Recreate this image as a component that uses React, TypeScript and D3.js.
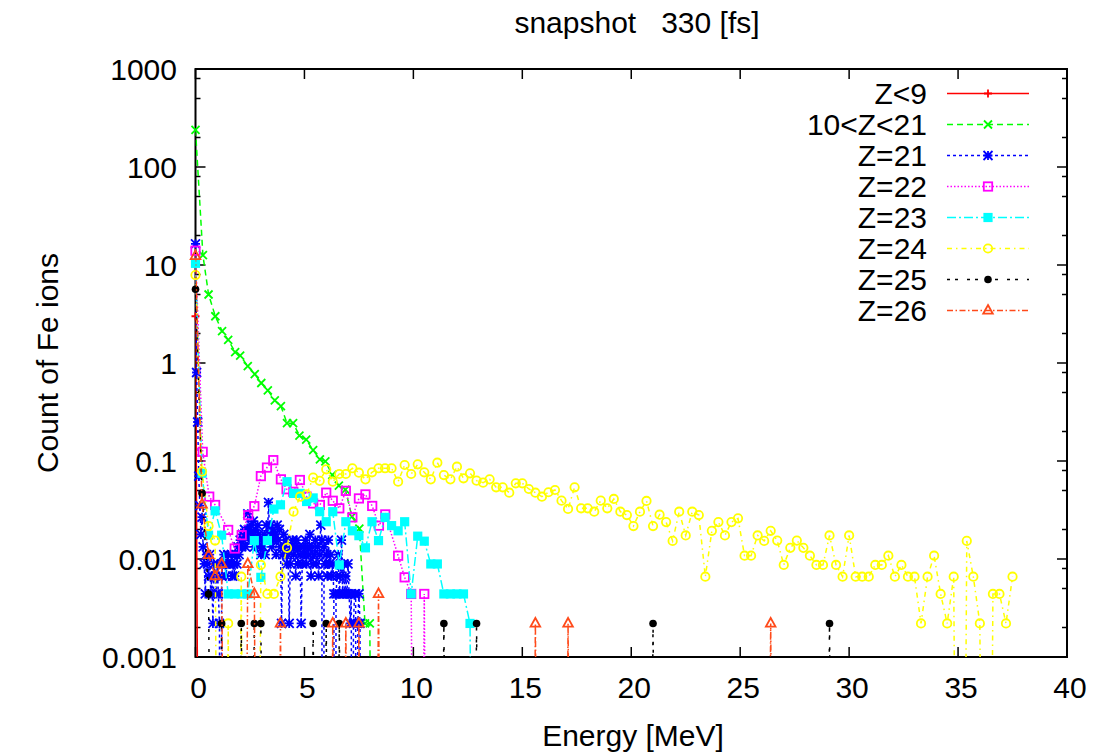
import React from 'react';
import * as d3 from 'd3';

// ---------- layout ----------
const W = 1106;
const H = 753;
const PL = 195.5;
const PR = 1067;
const PT = 69;
const PB = 657;
const FONT = '"Liberation Sans", Arial, Helvetica, sans-serif';
const FS = 30;

// ---------- axes ----------
const xTicks = [0, 5, 10, 15, 20, 25, 30, 35, 40];
const yTicks = [0.001, 0.01, 0.1, 1, 10, 100, 1000];
const yTickLabels = ['0.001', '0.01', '0.1', '1', '10', '100', '1000'];
const yMinorFactors = [2, 5, 8];

const FLOOR = 1e-12; // empty bins sit far below the axis

// ---------- data ----------
// Z<9
const redPts: [number, number][] = [[0, 3.0], [0.3, 0]];

// 10<Z<21
const greenX = [0, 0.34, 0.6, 0.91, 1.22, 1.5, 1.82, 2.05, 2.4, 2.72, 3.02, 3.32, 3.64, 3.92, 4.2, 4.48, 4.77, 5.08, 5.4, 5.71, 5.96, 6.28, 6.58, 6.88, 7.18, 7.52, 7.78, 8.0, 8.3];
const greenY = [239, 12.6, 5.0, 3.0, 2.12, 1.72, 1.29, 1.19, 0.93, 0.77, 0.625, 0.525, 0.415, 0.363, 0.243, 0.243, 0.182, 0.165, 0.129, 0.104, 0.099, 0.072, 0.056, 0.051, 0.027, 0.0204, 0.0022, 0.0022, 0];

// Z=21 (bins of 0.05 MeV starting at 0)
const BLUE_BIN = 0.05;
const blueY = [
  16.4, 0.8, 0.25, 0.07, 0.035, 0.0178, 0.0267, 0.0133, 0.0089, 0.0044,
  0.0111, 0.0089, 0.0067, 0.0111, 0.0044, 0.0067, 0.0022, 0.0089, 0.0067, 0.0044,
  0.0089, 0.0044, 0.0022, 0, 0.0067, 0.0089, 0.0111, 0.0089, 0.0067, 0.0089,
  0.0111, 0.0089, 0.0089, 0.0111, 0.0067, 0.0089, 0.0067, 0.0111, 0.0089, 0.0133,
  0.0111, 0.0156, 0.0133, 0.0178, 0.0156, 0.02, 0.0133, 0.0178, 0.0289, 0.02,
  0.0156, 0.0222, 0.0178, 0.0244, 0.0133, 0.02, 0.0156, 0.0222, 0.0178, 0.0133,
  0.0111, 0.0156, 0.0133, 0.0178, 0.0111, 0.0222, 0.0156, 0.0378, 0.0178, 0.0222,
  0.0133, 0.02, 0.0156, 0.0178, 0.0111, 0.0222, 0.0156, 0.02, 0.0133, 0.0022,
  0.0111, 0.0178, 0.0133, 0.0156, 0.0089, 0.0111, 0.0022, 0.0089, 0.0133, 0.0156,
  0.0111, 0.0133, 0.0067, 0.0156, 0.0089, 0.0133, 0.0111, 0.0022, 0.0089, 0.0133,
  0.0111, 0.0156, 0.0089, 0.0133, 0.0111, 0.0178, 0.0067, 0.0133, 0.0089, 0.0111,
  0.0156, 0.0089, 0.0133, 0.0067, 0.0111, 0.0222, 0.0156, 0, 0.0133, 0.0089,
  0.0111, 0.0067, 0.0156, 0.0089, 0.0111, 0.0067, 0.0089, 0.0044, 0, 0.0044,
  0.0067, 0.0111, 0.0044, 0.0067, 0.0156, 0.0044, 0.0089, 0.0044, 0.0067, 0.0044,
  0.0089, 0.0044, 0.0022, 0.0044, 0, 0.0022, 0.0044, 0.0044, 0, 0.0022,
  0.0044, 0.0022, 0,
];

// Z=22
const magentaX = [0, 0.33, 0.63, 0.9, 1.5, 1.8, 2.12, 2.42, 2.7, 3.0, 3.28, 3.57, 3.92, 4.18, 4.49, 4.79, 5.1, 5.4, 5.71, 6.0, 6.3, 6.6, 6.9, 7.2, 7.5, 7.8, 8.11, 8.42, 8.71, 9.3, 9.6, 9.9, 10.2, 10.5, 10.8];
const magentaY = [14, 0.124, 0.0433, 0.0356, 0.0198, 0.0128, 0.0175, 0.028, 0.0346, 0.0701, 0.0857, 0.102, 0.065, 0.0515, 0.0485, 0.064, 0.0433, 0.0369, 0.0356, 0.0475, 0.0393, 0.0329, 0.0496, 0.0266, 0.0415, 0.0456, 0.0348, 0.0219, 0.0285, 0.0108, 0.0065, 0.0044, 0, 0.0044, 0];

// Z=23 (bins of 0.3 MeV starting at 0)
const CYAN_BIN = 0.3;
const cyanY = [10.4, 0.075, 0.0175, 0.031, 0.0175, 0.0044, 0.0044, 0.0044, 0.0044, 0.0154,
  0.0065, 0.0154, 0.0323, 0.0357, 0.0615, 0.0467, 0.0467, 0.0386, 0.042, 0.0304,
  0.024, 0.0304, 0.0087, 0.024, 0.0194, 0.0173, 0.013, 0.024, 0.0154, 0.0266,
  0.0219, 0.0194, 0.024, 0.0044, 0.0171, 0.0152, 0.0089, 0.0089, 0.0044, 0.0044,
  0.0044, 0.0044, 0.0022, 0];

// Z=24 (bins of 0.3 MeV starting at 0)
const YELLOW_BIN = 0.3;
const yellowY = [7.9, 0.078, 0.0217, 0.0154, 0, 0.0022, 0, 0.0066, 0, 0,
  0.0087, 0.0044, 0.0044, 0.0066, 0.013, 0.0304, 0.0432, 0.0457, 0.0676, 0.0627,
  0.0823, 0.0615, 0.0737, 0.0737, 0.0843, 0.076, 0.065, 0.0767, 0.0843, 0.0843,
  0.0843, 0.0615, 0.091, 0.0737, 0.0925, 0.0767, 0.065, 0.0961, 0.0719, 0.065,
  0.0875, 0.0666, 0.0749, 0.063, 0.0601, 0.065, 0.0539, 0.0539, 0.0475, 0.0592,
  0.0592, 0.0518, 0.0475, 0.0432, 0.048, 0.0506, 0.0394, 0.0324, 0.0539, 0.0329,
  0.0329, 0.0304, 0.0394, 0.0329, 0.041, 0.0304, 0.0281, 0.0217, 0.0304, 0.0391,
  0.0217, 0.0283, 0.0238, 0.0153, 0.0304, 0.0174, 0.0304, 0.0281, 0.0066, 0.0194,
  0.0238, 0.0174, 0.0238, 0.026, 0.0108, 0.0108, 0.0174, 0.0153, 0.0194, 0.0154,
  0.0087, 0.013, 0.0154, 0.013, 0.0108, 0.0087, 0.0087, 0.0174, 0.0087, 0.0066,
  0.0174, 0.0066, 0.0066, 0.0066, 0.0087, 0.0087, 0.0108, 0.0066, 0.0087, 0.0066,
  0.0066, 0.0022, 0.0066, 0.0108, 0.0044, 0.0022, 0.0066, 0, 0.0153, 0.0066,
  0.0022, 0, 0.0044, 0.0044, 0.0022, 0.0066];

// Z=25
const blackPts: [number, number][] = [[0, 5.65], [0.3, 0.047], [0.6, 0.0044], [0.9, 0], [1.2, 0.0022], [1.5, 0], [1.8, 0], [2.1, 0.0022], [2.4, 0], [2.7, 0.0022], [3.0, 0.0022], [3.3, 0], [5.1, 0], [5.4, 0.0022], [5.7, 0], [6.0, 0.0022], [6.3, 0], [6.6, 0.0022], [6.9, 0], [11.1, 0], [11.4, 0.0022], [11.7, 0], [12.6, 0], [12.9, 0.0022], [13.2, 0], [20.7, 0], [21.0, 0.0022], [21.3, 0], [28.8, 0], [29.1, 0.0022], [29.4, 0]];

// Z=26
const orangePts: [number, number][] = [[0, 12.4], [0.3, 0.036], [0.6, 0.011], [0.9, 0.0067], [1.2, 0.0089], [1.5, 0], [2.1, 0], [2.4, 0.0089], [2.7, 0.0044], [3.0, 0], [3.6, 0], [3.9, 0.0022], [4.2, 0], [6.0, 0], [6.3, 0.0022], [6.6, 0], [6.9, 0.0022], [7.2, 0], [7.5, 0.0022], [7.8, 0], [8.1, 0], [8.4, 0.0044], [8.7, 0], [15.3, 0], [15.6, 0.0022], [15.9, 0], [16.8, 0], [17.1, 0.0022], [17.4, 0], [26.1, 0], [26.4, 0.0022], [26.7, 0]];

const zip = (xs: number[], ys: number[]): [number, number][] => ys.map((v, i) => [xs[i], v]);
const binned = (bin: number, ys: number[]): [number, number][] => ys.map((v, i) => [i * bin, v]);

type Marker = 'plus' | 'cross' | 'star' | 'box' | 'fbox' | 'circle' | 'fcircle' | 'tri';
interface Series { name: string; color: string; dash: string; marker: Marker; pts: [number, number][] }

const series: Series[] = [
  { name: 'Z<9', color: '#ff0000', dash: '', marker: 'plus', pts: redPts },
  { name: '10<Z<21', color: '#00ff00', dash: '6,4', marker: 'cross', pts: zip(greenX, greenY) },
  { name: 'Z=21', color: '#0000ff', dash: '3,3', marker: 'star', pts: binned(BLUE_BIN, blueY) },
  { name: 'Z=22', color: '#ff00ff', dash: '1.5,2', marker: 'box', pts: zip(magentaX, magentaY) },
  { name: 'Z=23', color: '#00ffff', dash: '9,3,2,3', marker: 'fbox', pts: binned(CYAN_BIN, cyanY) },
  { name: 'Z=24', color: '#ffff00', dash: '5,4,1.5,4', marker: 'circle', pts: binned(YELLOW_BIN, yellowY) },
  { name: 'Z=25', color: '#000000', dash: '3,5,3,9', marker: 'fcircle', pts: blackPts },
  { name: 'Z=26', color: '#ff4a1a', dash: '6,2.5,1.5,2.5', marker: 'tri', pts: orangePts },
];

function MarkerShape({ type, cx, cy, color }: { type: Marker; cx: number; cy: number; color: string }) {
  const common = { stroke: color, strokeWidth: 1.8, fill: 'none' };
  switch (type) {
    case 'plus': {
      const s = 4;
      return <path d={`M${cx - s},${cy}H${cx + s}M${cx},${cy - s}V${cy + s}`} {...common} />;
    }
    case 'cross': {
      const s = 4;
      return <path d={`M${cx - s},${cy - s}L${cx + s},${cy + s}M${cx - s},${cy + s}L${cx + s},${cy - s}`} {...common} />;
    }
    case 'star': {
      const s = 4.5;
      return (
        <path
          d={`M${cx - s},${cy}H${cx + s}M${cx},${cy - s}V${cy + s}M${cx - s},${cy - s}L${cx + s},${cy + s}M${cx - s},${cy + s}L${cx + s},${cy - s}`}
          {...common}
        />
      );
    }
    case 'box': {
      const s = 4.2;
      return <rect x={cx - s} y={cy - s} width={2 * s} height={2 * s} {...common} />;
    }
    case 'fbox': {
      const s = 4.6;
      return <rect x={cx - s} y={cy - s} width={2 * s} height={2 * s} fill={color} stroke="none" />;
    }
    case 'circle':
      return <circle cx={cx} cy={cy} r={4.2} {...common} />;
    case 'fcircle':
      return <circle cx={cx} cy={cy} r={3.8} fill={color} stroke="none" />;
    case 'tri':
      return <path d={`M${cx},${cy - 5.5}L${cx + 4.8},${cy + 3.2}L${cx - 4.8},${cy + 3.2}Z`} {...common} />;
  }
  return null;
}

export default function App() {
  const x = d3.scaleLinear().domain([0, 40]).range([PL, PR]);
  const y = d3.scaleLog().domain([0.001, 1000]).range([PB, PT]);
  const line = d3
    .line<[number, number]>()
    .x((d) => x(d[0]))
    .y((d) => y(d[1] > 0 ? d[1] : FLOOR));

  const minor: number[] = [];
  for (let i = 0; i < yTicks.length - 1; i++) {
    for (const f of yMinorFactors) minor.push(yTicks[i] * f);
  }

  const legendTextX = 927;
  const legendL = 947;
  const legendR = 1029;
  const legendMk = 988;
  const legendY0 = 93.5;
  const legendDy = 31;

  return (
    <svg
      width={W}
      height={H}
      viewBox={`0 0 ${W} ${H}`}
      style={{ position: 'absolute', left: 0, top: 0, background: '#fff', display: 'block' }}
      fontFamily={FONT}
    >
      <defs>
        <clipPath id="plotClip">
          <rect x={PL} y={PT} width={PR - PL} height={PB - PT} />
        </clipPath>
      </defs>
      <rect x={0} y={0} width={W} height={H} fill="#fff" />

      {/* frame & ticks */}
      <g stroke="#000" strokeWidth={1.5}>
        {xTicks.map((t) => (
          <g key={`xt${t}`}>
            <line x1={x(t)} x2={x(t)} y1={PB} y2={PB - 10} />
            <line x1={x(t)} x2={x(t)} y1={PT} y2={PT + 10} />
          </g>
        ))}
        {yTicks.map((t) => (
          <g key={`yt${t}`}>
            <line x1={PL} x2={PL + 10} y1={y(t)} y2={y(t)} />
            <line x1={PR} x2={PR - 10} y1={y(t)} y2={y(t)} />
          </g>
        ))}
        {minor.map((t, i) => (
          <g key={`ym${i}`}>
            <line x1={PL} x2={PL + 5} y1={y(t)} y2={y(t)} />
            <line x1={PR} x2={PR - 5} y1={y(t)} y2={y(t)} />
          </g>
        ))}
        <rect x={PL} y={PT} width={PR - PL} height={PB - PT} fill="none" strokeWidth={2} />
      </g>

      {/* tick labels */}
      <g fontSize={FS} fill="#000">
        {xTicks.map((t) => (
          <text key={`xl${t}`} x={x(t) + 3} y={698} textAnchor="middle">
            {t}
          </text>
        ))}
        {yTicks.map((t, i) => (
          <text key={`yl${t}`} x={177} y={y(t) + 10.5} textAnchor="end">
            {yTickLabels[i]}
          </text>
        ))}
      </g>

      {/* titles */}
      <text x={637} y={33} fontSize={FS} textAnchor="middle" style={{ whiteSpace: 'pre' }}>
        {'snapshot   330 [fs]'}
      </text>
      <text x={633} y={746} fontSize={FS} textAnchor="middle">
        Energy [MeV]
      </text>
      <text
        x={0}
        y={0}
        fontSize={FS}
        textAnchor="middle"
        transform={`translate(58, ${(PT + PB) / 2}) rotate(-90)`}
      >
        Count of Fe ions
      </text>

      {/* series */}
      {series.map((s) => (
        <g key={s.name}>
          <path
            d={line(s.pts) || ''}
            fill="none"
            stroke={s.color}
            strokeWidth={1.5}
            strokeDasharray={s.dash || undefined}
            clipPath="url(#plotClip)"
          />
          {s.pts
            .filter((p) => p[1] > 0)
            .map((p, i) => (
              <MarkerShape key={i} type={s.marker} cx={x(p[0])} cy={y(p[1])} color={s.color} />
            ))}
        </g>
      ))}

      {/* legend */}
      {series.map((s, i) => {
        const ly = legendY0 + i * legendDy;
        return (
          <g key={`lg${s.name}`}>
            <text x={legendTextX} y={ly + 10.5} fontSize={FS} textAnchor="end">
              {s.name}
            </text>
            <line
              x1={legendL}
              x2={legendR}
              y1={ly}
              y2={ly}
              stroke={s.color}
              strokeWidth={1.5}
              strokeDasharray={s.dash || undefined}
            />
            <MarkerShape type={s.marker} cx={legendMk} cy={ly} color={s.color} />
          </g>
        );
      })}
    </svg>
  );
}
